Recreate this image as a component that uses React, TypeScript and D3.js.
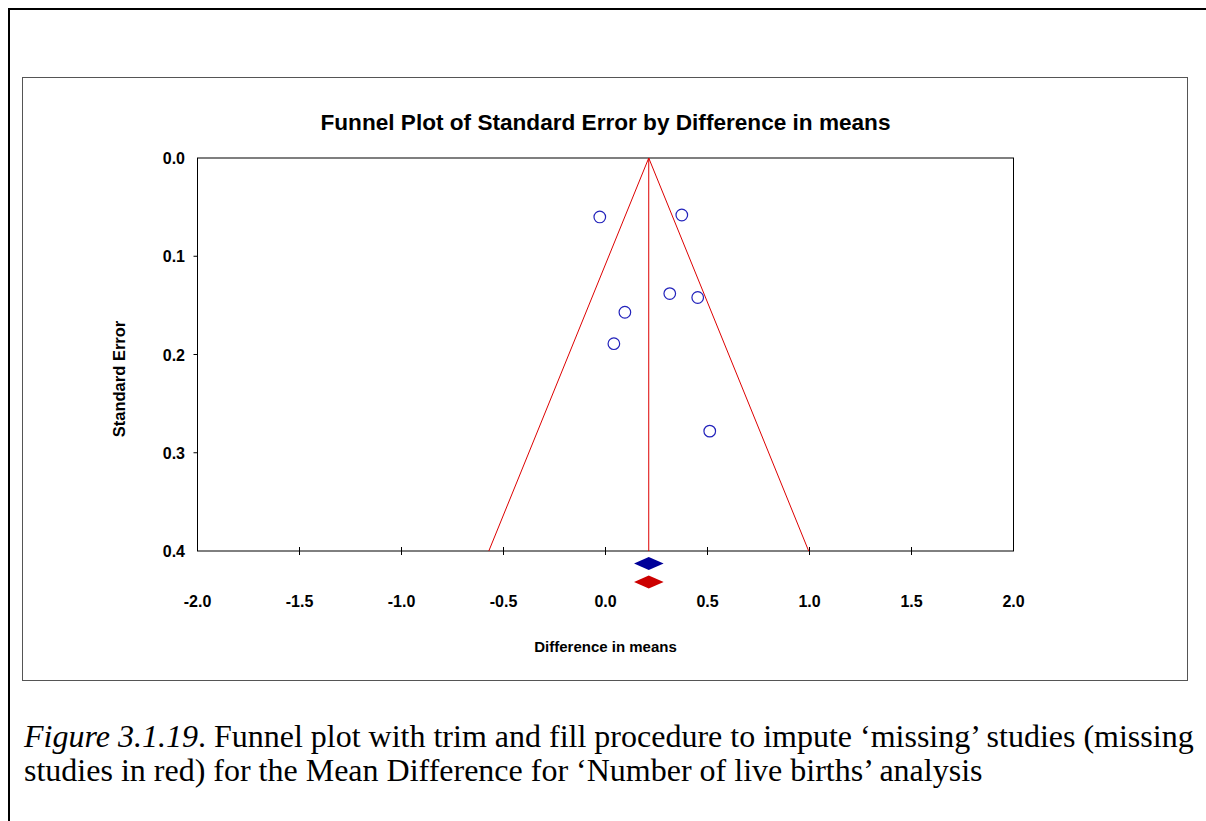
import React from "react";
import * as d3 from "d3";

const studyEffects = [-0.028, 0.374, 0.315, 0.452, 0.095, 0.041, 0.511];
const studySE = [0.060, 0.058, 0.138, 0.142, 0.157, 0.189, 0.278];
const xTicks = [-2.0, -1.5, -1.0, -0.5, 0.0, 0.5, 1.0, 1.5, 2.0];
const yTicks = [0.0, 0.1, 0.2, 0.3, 0.4];
const observedSummary = { mean: 0.212, lower: 0.14, upper: 0.285 };
const imputedSummary = { mean: 0.212, lower: 0.14, upper: 0.285 };
const captionLine1Italic = "Figure 3.1.19";
const captionLine1Rest = ". Funnel plot with trim and fill procedure to impute \u2018missing\u2019 studies (missing";
const captionLine2 = "studies in red) for the Mean Difference for \u2018Number of live births\u2019 analysis";

const W = 1206;
const H = 821;
const plot = { left: 197.5, right: 1013.5, top: 158, bottom: 551 };
const sans = "'Liberation Sans', Arial, sans-serif";
const serif = "'Liberation Serif', 'Times New Roman', serif";

export default function App() {
  const x = d3.scaleLinear().domain([-2, 2]).range([plot.left, plot.right]);
  const y = d3.scaleLinear().domain([0, 0.4]).range([plot.top, plot.bottom]);
  const seMax = 0.4;
  const m = observedSummary.mean;
  const funnel = d3.line<[number, number]>().x((d) => x(d[0])).y((d) => y(d[1]));
  const leftLine: [number, number][] = [[m, 0], [m - 1.96 * seMax, seMax]];
  const rightLine: [number, number][] = [[m, 0], [m + 1.96 * seMax, seMax]];
  const diamond = (s: typeof observedSummary, cy: number, h: number) =>
    `M${x(s.lower)},${cy} L${x(s.mean)},${cy - h} L${x(s.upper)},${cy} L${x(s.mean)},${cy + h} Z`;

  return (
    <svg width={W} height={H} style={{ position: "absolute", left: 0, top: 0, display: "block", background: "#fff" }}>
      {/* outer page border */}
      <line x1={8} y1={9} x2={W} y2={9} stroke="#000" strokeWidth={2} />
      <line x1={9} y1={8} x2={9} y2={H} stroke="#000" strokeWidth={2} />
      {/* chart frame */}
      <rect x={22.5} y={77.5} width={1165} height={603} fill="#fff" stroke="#555" strokeWidth={1} />
      {/* title */}
      <text x={(plot.left + plot.right) / 2} y={129.5} textAnchor="middle" fontFamily={sans} fontWeight="bold" fontSize={22.6}>
        Funnel Plot of Standard Error by Difference in means
      </text>
      {/* plot box */}
      <rect x={plot.left} y={plot.top} width={plot.right - plot.left} height={plot.bottom - plot.top} fill="none" stroke="#000" strokeWidth={1} />
      {/* y ticks */}
      {yTicks.map((t) => (
        <g key={"y" + t}>
          {t > 0 && t < 0.4 && <line x1={plot.left - 4} x2={plot.left} y1={y(t)} y2={y(t)} stroke="#000" />}
          <text x={185} y={y(t) + 6} textAnchor="end" fontFamily={sans} fontWeight="bold" fontSize={16}>
            {t.toFixed(1)}
          </text>
        </g>
      ))}
      {/* x ticks */}
      {xTicks.map((t) => (
        <g key={"x" + t}>
          {t > -2 && t < 2 && <line x1={x(t)} x2={x(t)} y1={plot.bottom - 4} y2={plot.bottom + 4} stroke="#000" />}
          <text x={x(t)} y={606.5} textAnchor="middle" fontFamily={sans} fontWeight="bold" fontSize={16}>
            {t.toFixed(1)}
          </text>
        </g>
      ))}
      {/* axis labels */}
      <text x={(plot.left + plot.right) / 2} y={651.5} textAnchor="middle" fontFamily={sans} fontWeight="bold" fontSize={15}>
        Difference in means
      </text>
      <text transform={`translate(125,379) rotate(-90)`} textAnchor="middle" fontFamily={sans} fontWeight="bold" fontSize={16.5}>
        Standard Error
      </text>
      {/* funnel */}
      <path d={funnel(leftLine) || ""} stroke="#dd0000" fill="none" strokeWidth={1} />
      <path d={funnel(rightLine) || ""} stroke="#dd0000" fill="none" strokeWidth={1} />
      <line x1={x(m)} x2={x(m)} y1={y(0)} y2={y(seMax)} stroke="#dd0000" strokeWidth={1} />
      {/* studies */}
      {studyEffects.map((e, i) => (
        <circle key={i} cx={x(e)} cy={y(studySE[i])} r={5.8} fill="none" stroke="#2222bb" strokeWidth={1.2} />
      ))}
      {/* summary diamonds */}
      <path d={diamond(observedSummary, 563.5, 6.5)} fill="#000099" />
      <path d={diamond(imputedSummary, 582, 6.5)} fill="#cc0000" />
      {/* caption */}
      <text x={24} y={747} fontFamily={serif} fontSize={32}>
        <tspan fontStyle="italic">{captionLine1Italic}</tspan>
        <tspan>{captionLine1Rest}</tspan>
      </text>
      <text x={24} y={781} fontFamily={serif} fontSize={32}>
        {captionLine2}
      </text>
    </svg>
  );
}
